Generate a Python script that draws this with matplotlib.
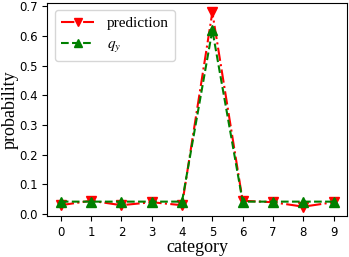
import numpy as np
import matplotlib.pyplot as plt

categories = [0, 1, 2, 3, 4, 5, 6, 7, 8, 9]
prediction = [0.030, 0.045, 0.030, 0.040, 0.030, 0.680, 0.045, 0.040, 0.025, 0.040]
q_y = [0.042, 0.042, 0.042, 0.042, 0.042, 0.620, 0.042, 0.042, 0.042, 0.042]

plt.rcParams['mathtext.fontset'] = 'stix'

fig, ax = plt.subplots(figsize=(3.49, 2.57), dpi=100)
ax.plot(categories, prediction, 'r-.', marker='v', markersize=6.5, linewidth=1.5, label='prediction')
ax.plot(categories, q_y, 'g--', marker='^', markersize=6.5, linewidth=1.5, label=r'$\boldsymbol{q_y}$')

ax.set_xticks(categories)
ax.set_yticks(np.arange(0, 0.71, 0.1))
ax.tick_params(labelsize=8.5)
ax.set_xlabel('category', family='Liberation Serif', fontsize=13, labelpad=0)
ax.set_ylabel('probability', family='Liberation Serif', fontsize=13, labelpad=0)
ax.legend(prop={'family': 'Liberation Serif', 'size': 11}, loc='upper left',
          handlelength=2.2, markerscale=0.9)

plt.subplots_adjust(left=0.135, right=0.995, top=0.99, bottom=0.158)
plt.savefig('out.png')
